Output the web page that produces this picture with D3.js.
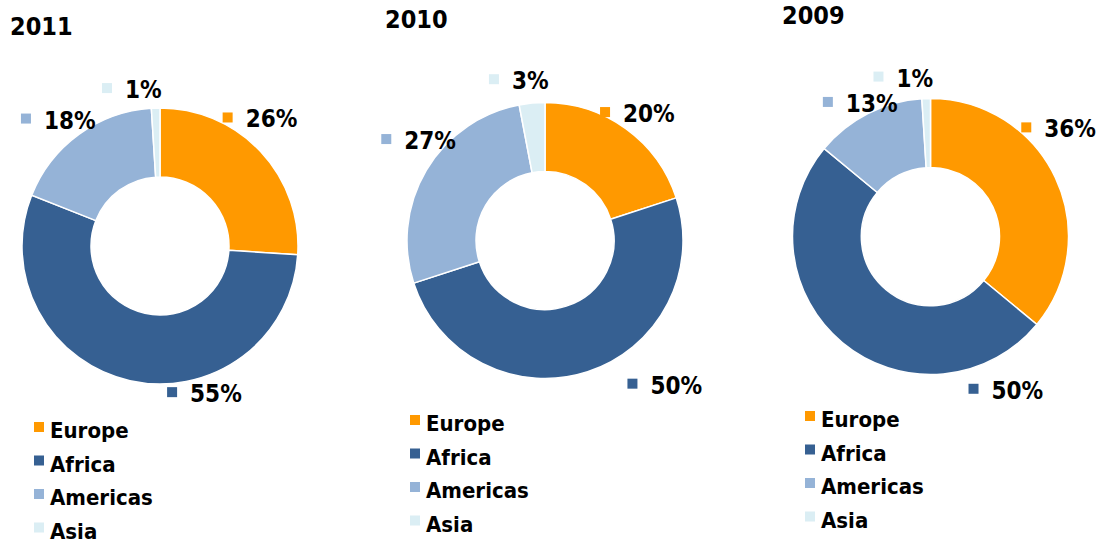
<!DOCTYPE html>
<html lang="en">
<head>
  <meta charset="UTF-8">
  <title>Share by region</title>
  <style>
    body { margin: 0; background: #fff; }
    svg { display: block; }
    text {
      font-family: "DejaVu Sans Condensed", "DejaVu Sans", sans-serif;
      font-weight: bold;
      fill: #000;
    }
    .title { font-size: 25px; }
    .pct { font-size: 24px; }
    .legend { font-size: 22px; }
  </style>
</head>
<body>
  <script src="https://d3js.org/d3.v7.min.js"></script>
  <svg id="chart" width="1104" height="540"></svg>
  <script>
    // data
    let years = ['2011', '2010', '2009']
    let regions = ['Europe', 'Africa', 'Americas', 'Asia']
    let share2011 = [26, 55, 18, 1]
    let share2010 = [20, 50, 27, 3]
    let share2009 = [36, 50, 13, 1]
    let shares = [share2011, share2010, share2009]
    let colors = ['#ff9900', '#366092', '#95b3d7', '#dbeef4']

    // layout of each donut (centre, title, legend) and label nudges
    let centres = [[160, 246], [545, 240.5], [930.5, 236.5]]
    let titlePos = [[10, 35], [385, 28], [782, 24]]
    let legendPos = [[34, 438], [410, 431], [805, 427]]
    let labelNudge = [
      [[-54, -24], [42, -15], [-45, -3], [-53, -3]],
      [[-39, -4], [33, -14], [-26, -25], [-41, -7]],
      [[-54, -46], [140, 24], [-35, 3], [-52, -5]]
    ]

    let outerR = 138
    let innerR = 69
    let legendStep = 33.5

    let svg = d3.select('#chart')
    let color = d3.scaleOrdinal().domain(regions).range(colors)
    let pie = d3.pie().value(d => d.value).sort(null)
    let arc = d3.arc().innerRadius(innerR).outerRadius(outerR)
    let labelArc = d3.arc().innerRadius(160).outerRadius(160)

    years.forEach((year, i) => {
      let data = regions.map((r, j) => ({ region: r, value: shares[i][j] }))
      let g = svg.append('g')
        .attr('transform', 'translate(' + centres[i][0] + ',' + centres[i][1] + ')')

      g.selectAll('.slice')
        .data(pie(data))
        .enter()
        .append('path')
        .attr('class', 'slice')
        .attr('d', arc)
        .attr('fill', d => color(d.data.region))
        .attr('stroke', '#fff')
        .attr('stroke-width', 1.5)

      // percentage labels with colour key
      let labels = g.selectAll('.lbl')
        .data(pie(data))
        .enter()
        .append('g')
        .attr('class', 'lbl')
        .attr('transform', (d, j) => {
          let c = labelArc.centroid(d)
          return 'translate(' + (c[0] + labelNudge[i][j][0]) + ',' + (c[1] + labelNudge[i][j][1]) + ')'
        })
      labels.append('rect')
        .attr('width', 10)
        .attr('height', 10)
        .attr('fill', d => color(d.data.region))
      labels.append('text')
        .attr('class', 'pct')
        .attr('x', 23)
        .attr('y', 15)
        .text(d => d.data.value + '%')

      svg.append('text')
        .attr('class', 'title')
        .attr('x', titlePos[i][0])
        .attr('y', titlePos[i][1])
        .text(year)

      // legend
      let legend = svg.append('g')
        .attr('transform', 'translate(' + legendPos[i][0] + ',' + legendPos[i][1] + ')')
      let items = legend.selectAll('.item')
        .data(regions)
        .enter()
        .append('g')
        .attr('class', 'item')
        .attr('transform', (d, j) => 'translate(0,' + (j * legendStep) + ')')
      items.append('rect')
        .attr('y', -16)
        .attr('width', 10)
        .attr('height', 10)
        .attr('fill', d => color(d))
      items.append('text')
        .attr('class', 'legend')
        .attr('x', 16)
        .text(d => d)
    })
  </script>
</body>
</html>
